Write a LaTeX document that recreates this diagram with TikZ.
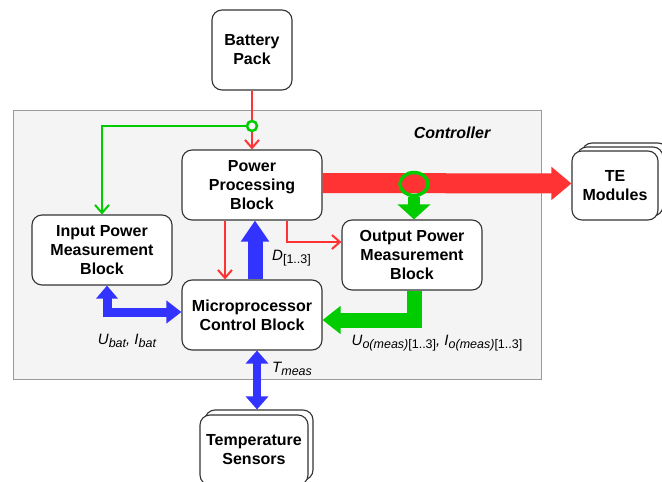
\documentclass[tikz,border=0pt]{standalone}
\usepackage{fontspec}
\setmainfont{Liberation Sans}
\usetikzlibrary{arrows.meta,shapes.geometric,shadows}

\definecolor{pwrred}{HTML}{FF3333}
\definecolor{msrgreen}{HTML}{00CC00}
\definecolor{ctlblue}{HTML}{3333FF}
\definecolor{ctrlgray}{HTML}{F4F4F4}
\definecolor{ctrledge}{HTML}{999999}
\definecolor{boxedge}{HTML}{333333}

% lowered index text for the signal labels
\newcommand{\lowtxt}[1]{\raisebox{-3.5pt}{\fontsize{12.5}{14}\selectfont #1}}

\begin{document}
\begin{tikzpicture}[
    x=1pt, y=-1pt,
    % rounded blocks
    block/.style={draw=boxedge, line width=1.1pt, fill=white, rounded corners=10pt,
        align=center, inner sep=2pt, font=\bfseries\fontsize{16}{19}\selectfont,
        minimum width=140pt, minimum height=70pt},
    % thin power and sense lines
    thinred/.style={draw=pwrred, line width=2pt, -{Straight Barb[length=8pt,width=14pt]}},
    thingreen/.style={draw=msrgreen, line width=2pt, -{Straight Barb[length=8pt,width=14pt]}},
    % signal names
    sig/.style={font=\itshape\fontsize{15}{18}\selectfont, inner sep=1pt}
]
    \useasboundingbox (0,0) rectangle (662,482);

    % Controller frame
    \node[fill=ctrlgray, draw=ctrledge, line width=1pt, minimum width=528pt,
        minimum height=269pt, inner sep=0] (ctrl) at (277,244.5) {};
    \node[font=\bfseries\itshape\fontsize{16}{19}\selectfont] (ctrltitle) at (452,133) {Controller};

    % Blocks
    \node[block, minimum width=80pt, minimum height=80pt] (bat) at (252,50) {Battery\\Pack};
    \node[block] (ppb) at (252,185) {Power\\Processing\\Block};
    \node[block] (ipmb) at (102,250) {Input Power\\Measurement\\Block};
    \node[block] (opmb) at (412,255) {Output Power\\Measurement\\Block};
    \node[block] (mcb) at (252,315) {Microprocessor\\Control Block};
    \node[block, minimum width=86pt, minimum height=69pt,
        double copy shadow={shadow xshift=5pt, shadow yshift=4pt}] (te) at (615,185.5) {TE\\Modules};
    \node[block, minimum width=108pt, minimum height=70pt,
        copy shadow={shadow xshift=5pt, shadow yshift=5pt}] (ts) at (254,450) {Temperature\\Sensors};

    % Thin power lines
    \draw[thinred] (bat.south) -- (ppb.north);
    \draw[thinred] ([xshift=-27pt]ppb.south) -- ([xshift=-27pt]mcb.north);
    \draw[thinred] ([xshift=35pt]ppb.south) |- ([yshift=13pt]opmb.west);

    % Input sense
    \node[draw=msrgreen, line width=2.5pt, fill=ctrlgray, circle, minimum size=10pt,
        inner sep=0] (gsense) at (252,126) {};
    \draw[thingreen] (gsense.west) -| (ipmb.north);

    % Output power to the modules
    \draw[draw=pwrred, line width=20pt, -{Triangle[length=20pt,width=32pt]}]
        ([yshift=2pt]ppb.east) -- ([yshift=2pt]te.west);

    % Output sense
    \node[draw=msrgreen, line width=3.5pt, ellipse, minimum width=28pt,
        minimum height=23pt, inner sep=0] (gtap) at (414,184) {};
    \draw[draw=msrgreen, line width=12pt, -{Triangle[length=15pt,width=32pt]}]
        (gtap.south) -- (gtap.south |- opmb.north);
    \draw[draw=msrgreen, line width=15pt, miter limit=4, -{Triangle[length=18pt,width=27pt]}]
        ([xshift=2pt]opmb.south) |- ([yshift=-5pt]mcb.east);

    % Control signals
    \draw[draw=ctlblue, line width=15pt, -{Triangle[length=21pt,width=27pt]}]
        ([xshift=3pt]mcb.north) -- ([xshift=3pt]ppb.south);
    \draw[draw=ctlblue, line width=9pt,
        {Triangle[length=13pt,width=21pt]}-{Triangle[length=15pt,width=22pt]}]
        ([xshift=5pt]ipmb.south) |- ([yshift=3pt]mcb.west);
    \draw[draw=ctlblue, line width=8pt,
        {Triangle[length=13pt,width=22pt]}-{Triangle[length=13pt,width=22pt]}]
        ([xshift=5pt]mcb.south) -- ([xshift=3pt,yshift=5pt]ts.north);

    % Signal names
    \node[sig, anchor=west] (dlbl) at (271,258) {D\lowtxt{\upshape[1..3]}};
    \node[sig] (batlbl) at (127,341) {U\lowtxt{bat}, I\lowtxt{bat}};
    \node[sig, anchor=west] (tlbl) at (271,369) {T\lowtxt{meas}};
    \node[sig] (olbl) at (437,343) {U\lowtxt{o(meas)\upshape[1..3]}, I\lowtxt{o(meas)\upshape[1..3]}};
\end{tikzpicture}
\end{document}
